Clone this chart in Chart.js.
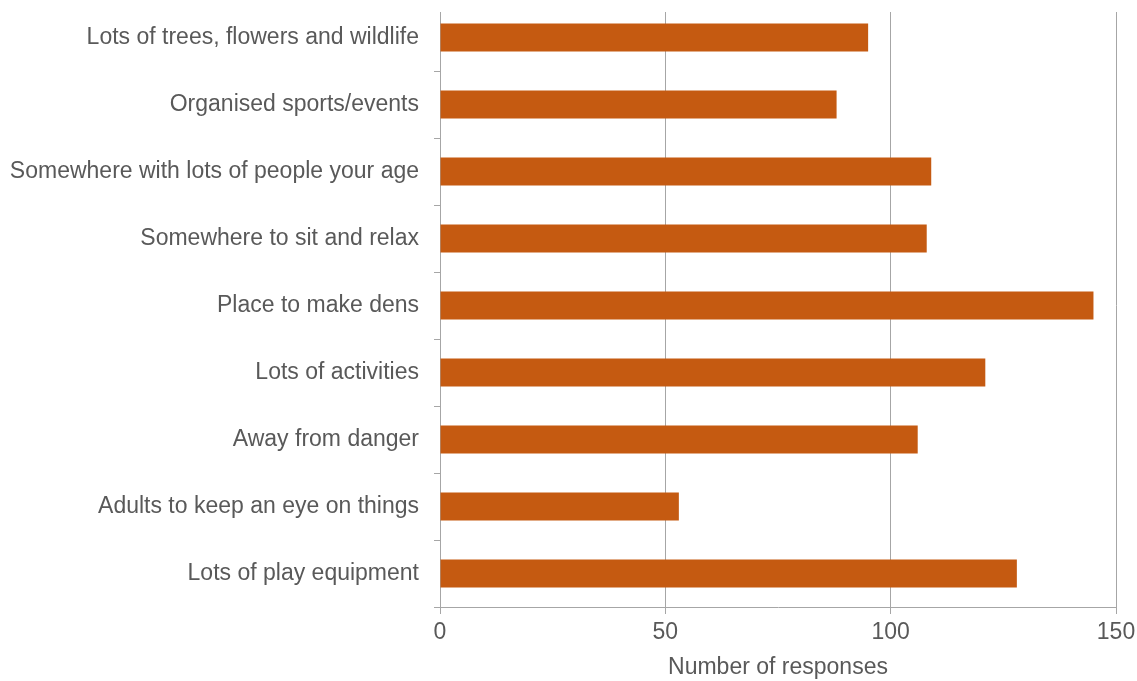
<!DOCTYPE html>
<html>
<head>
<meta charset="utf-8">
<script src="https://cdn.jsdelivr.net/npm/chart.js@4"></script>
<style>
  html, body { margin: 0; padding: 0; background: #fff; }
  #wrap { width: 1137px; height: 681px; }
</style>
</head>
<body>
<div id="wrap"><canvas id="chart"></canvas></div>
<script>
const categories = [
    'Lots of trees, flowers and wildlife',
    'Organised sports/events',
    'Somewhere with lots of people your age',
    'Somewhere to sit and relax',
    'Place to make dens',
    'Lots of activities',
    'Away from danger',
    'Adults to keep an eye on things',
    'Lots of play equipment'
];
const responses = [95, 88, 109, 108, 145, 121, 106, 53, 128];
const xTicks = [0, 50, 100, 150];

const textColor = '#595959';
const lineColor = '#a6a6a6';
const font = { family: 'Liberation Sans, Arial, sans-serif', size: 23 };

// the plot lines start a bit below the first category, as in the original
const trimTop = {
    id: 'trimTop',
    afterDraw(chart) {
        const ctx = chart.ctx;
        const area = chart.chartArea;
        ctx.save();
        ctx.fillStyle = '#fff';
        ctx.fillRect(area.left - 8, 0, area.right - area.left + 10, 12);
        ctx.restore();
    }
};

new Chart(document.getElementById('chart').getContext('2d'), {
    type: 'bar',
    data: {
        labels: categories,
        datasets: [{
            data: responses,
            backgroundColor: '#c55a11',
            barPercentage: 0.42,
            categoryPercentage: 1
        }]
    },
    options: {
        indexAxis: 'y',
        responsive: true,
        maintainAspectRatio: false,
        animation: false,
        layout: { padding: { left: 10, right: 21, top: 4, bottom: 0 } },
        plugins: {
            legend: { display: false },
            tooltip: { enabled: false }
        },
        scales: {
            x: {
                min: 0,
                max: 150,
                afterBuildTicks: axis => { axis.ticks = xTicks.map(v => ({ value: v })); },
                afterFit: scale => { scale.paddingLeft = 0; scale.paddingRight = 0; scale.height = 74; },
                grid: { color: lineColor, tickLength: 7, lineWidth: 1 },
                border: { color: lineColor },
                ticks: { color: textColor, font: font, padding: 5 },
                title: {
                    display: true,
                    text: 'Number of responses',
                    color: textColor,
                    font: font,
                    padding: { top: 2, bottom: 0 }
                }
            },
            y: {
                afterFit: scale => { scale.width = 430; scale.paddingTop = 0; scale.paddingBottom = 0; },
                grid: { offset: true, drawOnChartArea: false, color: lineColor, tickLength: 6 },
                border: { color: lineColor },
                ticks: { color: textColor, font: font, padding: 15 }
            }
        }
    },
    plugins: [trimTop]
});
</script>
</body>
</html>
